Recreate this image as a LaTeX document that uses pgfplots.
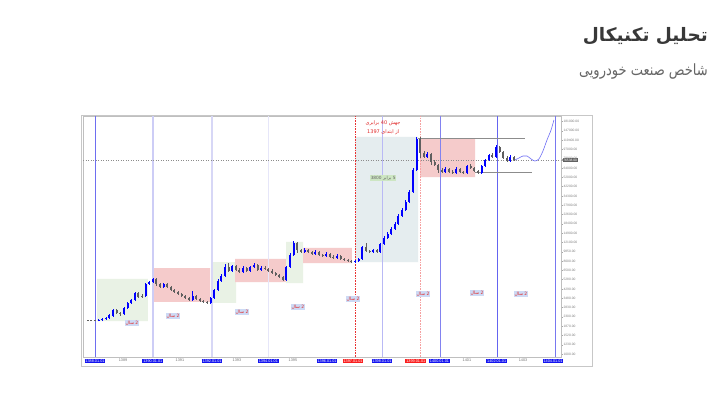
\documentclass[border=0pt]{standalone}
\usepackage{fontspec}
\setmainfont{Liberation Sans}
\newfontfamily\fa[Script=Arabic]{DejaVu Sans}
\usepackage{pgfplots}
\usepackage{pgfplotstable}
\pgfplotsset{compat=1.18}
\TeXXeTstate=1
\definecolor{candup}{RGB}{0,0,255}
\definecolor{canddn}{RGB}{95,95,95}
\definecolor{boxgreen}{RGB}{233,242,229}
\definecolor{boxred}{RGB}{245,203,203}
\definecolor{boxblue}{RGB}{229,237,239}
\definecolor{dateblue}{RGB}{20,20,240}
\definecolor{datered}{RGB}{250,30,30}
\definecolor{lblblue}{RGB}{205,218,245}
\definecolor{lblred}{RGB}{225,40,40}
\definecolor{lblgreen}{RGB}{205,230,195}
\newcommand{\bl}[1]{{\setlength{\fboxsep}{0.8pt}\colorbox{dateblue}{\textcolor{white}{#1}}}}
\newcommand{\rl}[1]{{\setlength{\fboxsep}{0.8pt}\colorbox{datered}{\textcolor{white}{#1}}}}
\newcommand{\gl}[1]{\textcolor{black!55}{#1}}
\newcommand{\sal}{{\fa\beginR\beginL 2\endL{} سال\endR}}

\pgfplotstableread{
x lo hi bo bt
1388.125 2091 2187 2091 2139
1388.25 2091 2237 2139 2187
1388.375 2139 2287 2187 2237
1388.5 2187 2446 2237 2392
1388.625 2287 2735 2339 2675
1389.0 2392 2860 2446 2797
1389.125 2735 3199 2797 3128
1389.25 3059 3421 3128 3345
1389.375 3271 4000 3345 3912
1389.75 3577 4892 3658 4784
1389.875 4678 5116 4784 5002
1390.0 4892 5470 5002 5350
1390.375 4374 4892 4473 4784
1391.375 3271 4090 3345 3658
1392.0 3059 3577 3128 3498
1392.125 3421 4278 3498 4183
1392.25 4090 5350 4183 5116
1392.375 5002 5982 5116 5721
1392.5 5594 7481 5721 6996
1392.75 6256 7316 6397 7154
1393.125 6118 7154 6256 6841
1393.375 6256 7154 6397 6996
1393.5 6841 7650 6996 7316
1393.75 6397 7154 6542 6841
1394.625 5116 7154 5231 6996
1394.75 6841 9567 6996 9149
1394.875 8946 12512 9149 11965
1395.25 9567 10699 9783 10231
1395.625 9149 10231 9356 9783
1396.0 8749 9783 8946 9356
1396.375 8366 9356 8555 8946
1397.0 7650 8181 7823 8000
1397.125 7823 8555 8000 8366
1397.25 8181 11188 8366 10941
1397.625 9567 10462 9783 10231
1397.875 9567 11965 9783 11700
1398.0 11442 13992 11700 13380
1398.125 13084 15301 13380 14631
1398.25 14308 17110 14631 16362
1398.375 16000 19134 16362 18298
1398.5 17893 22883 18298 21882
1398.625 21398 26168 21882 25024
1398.75 24470 31293 25024 29925
1398.875 29262 39133 29925 37424
1399.0 36595 64000 37424 61203
1399.125 59850 128000 61203 122406
1399.5 80038 91533 81850 87526
1400.125 57232 65446 58525 62586
1400.5 55968 65446 57232 62586
1400.875 55968 68442 57232 66925
1401.375 55968 68442 57232 66925
1401.5 65446 78266 66925 76538
1401.625 74848 87526 76538 85594
1401.875 80038 107040 81850 102355
1402.375 73190 85594 74848 81850
}\upc

\pgfplotstableread{
x lo hi bo bt
1387.75 2091 2139 2091 2139
1387.875 2091 2139 2091 2139
1388.0 2091 2139 2091 2139
1388.75 2446 2735 2501 2675
1388.875 2339 2558 2446 2501
1389.5 3498 4000 3577 3912
1389.625 3498 3825 3577 3658
1390.125 4574 5470 4784 5350
1390.25 4374 4892 4473 4784
1390.5 4374 4892 4473 4784
1390.625 4090 4574 4183 4473
1390.75 3912 4278 4000 4183
1390.875 3741 4090 3825 4000
1391.0 3577 3912 3658 3825
1391.125 3421 3741 3498 3658
1391.25 3271 3577 3345 3498
1391.5 3345 3741 3421 3658
1391.625 3199 3498 3271 3421
1391.75 3128 3345 3199 3271
1391.875 3059 3271 3128 3199
1392.625 6256 7650 6397 6996
1392.875 6397 7316 6542 7154
1393.0 6118 6841 6256 6542
1393.25 6256 6996 6397 6841
1393.625 6397 7481 6542 7316
1393.875 6542 7154 6690 6841
1394.0 6256 6841 6397 6690
1394.125 5982 6690 6118 6397
1394.25 5721 6256 5850 6118
1394.375 5470 5982 5594 5850
1394.5 5116 5721 5231 5594
1395.0 9567 12235 10231 11965
1395.125 9567 10462 9783 10231
1395.375 9567 10462 9783 10231
1395.5 9149 10005 9356 9783
1395.75 8946 10005 9149 9783
1395.875 8749 9356 8946 9149
1396.125 8555 9567 8749 9356
1396.25 8366 9149 8555 8749
1396.5 8181 9149 8366 8946
1396.625 8000 8555 8181 8366
1396.75 7823 8366 8000 8181
1396.875 7650 8181 7823 8000
1397.375 9783 11965 10005 10941
1397.5 9567 10231 9783 10005
1397.75 9567 10462 9783 10231
1399.25 80038 128000 89504 122406
1399.375 80038 93600 81850 89504
1399.625 68442 89504 73190 87526
1399.75 66925 76538 68442 73190
1399.875 57232 69990 61203 68442
1400.0 57232 64000 58525 61203
1400.25 57232 64000 58525 62586
1400.375 55968 61203 57232 58525
1400.625 57232 64000 58525 62586
1400.75 55968 59850 57232 58525
1401.0 62586 69990 64000 66925
1401.125 58525 65446 59850 64000
1401.25 55968 61203 57232 59850
1401.75 80038 89504 81850 85594
1402.0 89504 104672 91533 102355
1402.125 78266 93600 80038 91533
1402.25 73190 83699 74848 80038
1402.5 74848 83699 76538 81850
}\dnc

\begin{document}
\begin{tikzpicture}
\useasboundingbox[fill=white] (0pt,0pt) rectangle (711pt,392pt);
% titles
\node[anchor=east, inner sep=0pt, text=black!78, font=\fa\bfseries\fontsize{18.5}{22}\selectfont] at (708pt,356pt) {\beginR تحلیل تکنیکال\endR};
\node[anchor=east, inner sep=0pt, text=black!60, xscale=0.84, transform shape, font=\fa\fontsize{15.5}{18}\selectfont] at (708pt,320pt) {\beginR شاخص صنعت خودرویی\endR};
% outer frame
\draw[black!22, line width=0.8pt] (81pt,26pt) rectangle (592pt,277pt);
\begin{axis}[
  at={(83pt,35pt)}, anchor=south west, scale only axis, width=478pt, height=241pt,
  xmin=1387.585, xmax=1404.125, ymode=log, ymin=935, ymax=204700,
  axis line style={draw=black!25, line width=0.5pt},
  xtick={1388,1388.97,1390,1390.94,1392.05,1392.91,1394,1394.85,1396.03,1396.93,1397.93,1399.1,1399.92,1400.87,1401.9,1402.81,1403.85},
  xticklabels={\bl{1388.01.01},\gl{1389},\bl{1390.01.01},\gl{1391},\bl{1392.01.01},\gl{1393},\bl{1394.01.01},\gl{1395},\bl{1396.01.01},\rl{1397.01.01},\bl{1398.01.01},\rl{1399.01.01},\bl{1400.01.01},\gl{1401},\bl{1402.01.01},\gl{1403},\bl{1404.01.01}},
  xtick style={draw=none},
  xticklabel style={font=\fontsize{3.8}{4.1}\selectfont, inner sep=0.5pt},
  ytick={1000,1230,1520,1870,2300,2830,3480,4290,5280,6500,8000,9850,12100,14900,18400,22600,27900,34300,42200,52000,64000,78800,97000,119400,147000,181000},
  yticklabels={1000.00,1230.00,1520.00,1870.00,2300.00,2830.00,3480.00,4290.00,5280.00,6500.00,8000.00,9850.00,12100.00,14900.00,18400.00,22600.00,27900.00,34300.00,42200.00,52000.00,64000.00,78800.00,97000.00,119400.00,147000.00,181000.00},
  ytick pos=right, yticklabel pos=right, yminorticks=false,
  tick align=outside, major tick length=1.5pt,
  ytick style={draw=black!35, line width=0.3pt},
  yticklabel style={font=\fontsize{3.3}{3.6}\selectfont, text=black!50, inner sep=0.8pt},
  extra y ticks={76538}, extra y tick labels={76538.00},
  extra y tick style={yticklabel style={fill=black!62, text=white, inner sep=0.6pt}},
  clip=true,
]
% shaded zones
\addplot[fill=boxgreen, draw=none, forget plot] coordinates {(1388.07,2090) (1389.83,2090) (1389.83,5350) (1388.07,5350) (1388.07,2090)};
\addplot[fill=boxred, draw=none, forget plot] coordinates {(1390.0,3200) (1391.98,3200) (1391.98,6840) (1390.0,6840) (1390.0,3200)};
\addplot[fill=boxgreen, draw=none, forget plot] coordinates {(1392.08,3130) (1392.88,3130) (1392.88,7820) (1392.08,7820) (1392.08,3130)};
\addplot[fill=boxred, draw=none, forget plot] coordinates {(1392.85,5000) (1394.64,5000) (1394.64,8370) (1392.85,8370) (1392.85,5000)};
\addplot[fill=boxgreen, draw=none, forget plot] coordinates {(1394.61,4890) (1395.2,4890) (1395.2,12240) (1394.61,12240) (1394.61,4890)};
\addplot[fill=boxred, draw=none, forget plot] coordinates {(1395.2,7650) (1396.89,7650) (1396.89,10700) (1395.2,10700) (1395.2,7650)};
\addplot[fill=boxblue, draw=none, forget plot] coordinates {(1397.0,7820) (1399.18,7820) (1399.18,128000) (1397.0,128000) (1397.0,7820)};
\addplot[fill=boxred, draw=none, forget plot] coordinates {(1399.25,52300) (1401.15,52300) (1401.15,122400) (1399.25,122400) (1399.25,52300)};
% vertical lines
\addplot[color={rgb,255:red,110;green,110;blue,240}, line width=0.7pt] coordinates {(1388.0,935) (1388.0,204700)};
\addplot[color={rgb,255:red,205;green,205;blue,246}, line width=2.4pt] coordinates {(1390.0,935) (1390.0,204700)};
\addplot[color={rgb,255:red,215;green,215;blue,246}, line width=1.4pt] coordinates {(1392.05,935) (1392.05,204700)};
\addplot[color={rgb,255:red,230;green,230;blue,249}, line width=1.2pt] coordinates {(1394.0,935) (1394.0,204700)};
\addplot[color={rgb,255:red,232;green,50;blue,50}, densely dotted, line width=0.6pt] coordinates {(1397.0,935) (1397.0,204700)};
\addplot[color={rgb,255:red,185;green,185;blue,245}, line width=0.6pt] coordinates {(1397.93,935) (1397.93,204700)};
\addplot[color={rgb,255:red,245;green,160;blue,160}, densely dotted, line width=0.6pt] coordinates {(1399.25,935) (1399.25,204700)};
\addplot[color={rgb,255:red,130;green,130;blue,240}, line width=0.7pt] coordinates {(1399.94,935) (1399.94,204700)};
\addplot[color={rgb,255:red,100;green,100;blue,240}, line width=0.8pt] coordinates {(1401.91,935) (1401.91,204700)};
\addplot[color={rgb,255:red,120;green,120;blue,240}, line width=0.7pt] coordinates {(1403.92,935) (1403.92,204700)};
% current price dotted line and support/resistance
\addplot[black!45, dotted, line width=0.5pt] coordinates {(1387.585,76538) (1404.125,76538)};
\addplot[black!45, line width=0.8pt] coordinates {(1399.18,125200) (1402.88,125200)};
\addplot[black!45, line width=0.8pt] coordinates {(1401.15,58500) (1403.12,58500)};
% candles: wicks and bodies
\addplot[draw=none, mark=none, forget plot, error bars/.cd, y dir=plus, y explicit, error mark=none, error bar style={draw=canddn, line width=0.45pt}] table[x=x, y=lo, y error plus expr=\thisrow{hi}-\thisrow{lo}] {\dnc};
\addplot[draw=none, mark=none, forget plot, error bars/.cd, y dir=plus, y explicit, error mark=none, error bar style={draw=canddn, line width=2pt}] table[x=x, y=bo, y error plus expr=\thisrow{bt}-\thisrow{bo}] {\dnc};
\addplot[draw=none, mark=none, forget plot, error bars/.cd, y dir=plus, y explicit, error mark=none, error bar style={draw=candup, line width=0.45pt}] table[x=x, y=lo, y error plus expr=\thisrow{hi}-\thisrow{lo}] {\upc};
\addplot[draw=none, mark=none, forget plot, error bars/.cd, y dir=plus, y explicit, error mark=none, error bar style={draw=candup, line width=2pt}] table[x=x, y=bo, y error plus expr=\thisrow{bt}-\thisrow{bo}] {\upc};
% projection path
\addplot[color={rgb,255:red,110;green,110;blue,245}, line width=0.6pt, smooth] coordinates {(1402.53,76538) (1402.67,80038) (1402.81,83699) (1402.95,83699) (1403.09,78266) (1403.22,74848) (1403.36,78266) (1403.50,93600) (1403.64,119699) (1403.78,149696) (1403.88,187200)};
% annotations
\node[text=lblred, font=\fa\fontsize{5}{6}\selectfont] at (axis cs:1397.97,175053) {\beginR جهش \beginL 40\endL{} برابری\endR};
\node[text=lblred, font=\fa\fontsize{5}{6}\selectfont] at (axis cs:1397.97,143142) {\beginR از ابتدای \beginL 1397\endL\endR};
\node[fill=lblgreen, text=black!60, inner sep=0.8pt, font=\fa\fontsize{4.3}{5}\selectfont] at (axis cs:1397.97,51178) {\beginR \beginL 5\endL{} برابر \beginL 3800\endL\endR};
\foreach \xx/\yy in {1389.28/2000, 1390.70/2339, 1393.09/2558, 1395.02/2860, 1396.93/3421, 1399.35/3825, 1401.22/3912, 1402.74/3825}{
  \edef\tmp{\noexpand\node[fill=lblblue, text=lblred, inner sep=0.8pt, font=\noexpand\fontsize{4.5}{5}\noexpand\selectfont] at (axis cs:\xx,\yy) {\noexpand\sal};}\tmp
}
\end{axis}
\end{tikzpicture}
\end{document}
